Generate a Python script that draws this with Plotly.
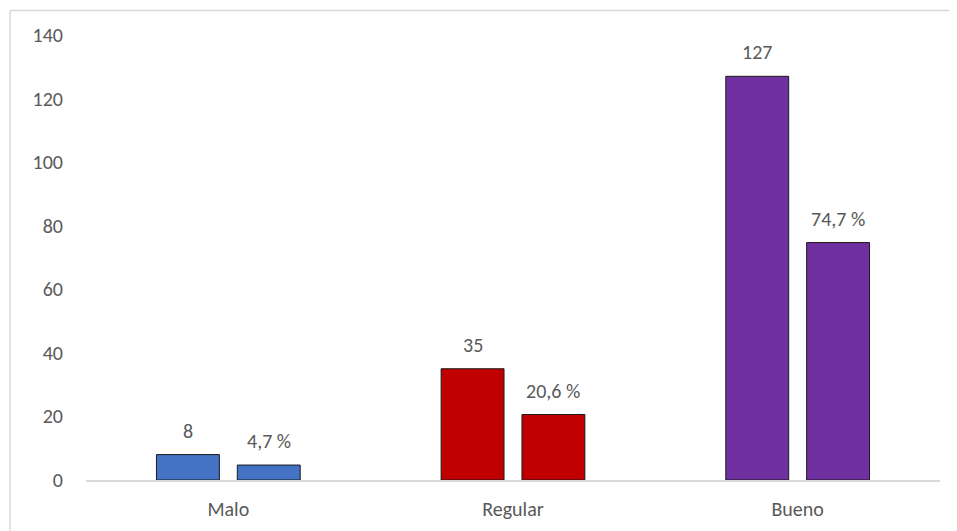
import plotly.graph_objects as go

categories = ["Malo", "Regular", "Bueno"]
counts = [8, 35, 127]
percents = [4.7, 20.6, 74.7]
colors = ["#4472C4", "#C00000", "#7030A0"]
y_ticks = [0, 20, 40, 60, 80, 100, 120, 140]

count_labels = [str(v) for v in counts]
pct_labels = [f"{v:.1f}".replace(".", ",") + " %" for v in percents]

font_family = "Carlito, Calibri, Lato, 'Open Sans', sans-serif"
FS = 20
TXT = "#595959"

BARGAP = 0.432
GROUPGAP = 0.222

fig = go.Figure()
fig.add_trace(go.Bar(
    x=categories, y=counts,
    marker=dict(color=colors, line=dict(color="#1a1a1a", width=1)),
    showlegend=False, hoverinfo="x+y",
))
fig.add_trace(go.Bar(
    x=categories, y=percents,
    marker=dict(color=colors, line=dict(color="#1a1a1a", width=1)),
    showlegend=False, hoverinfo="x+y",
))

# page body has an 8px margin; figure coordinates are screen minus 8
W, H = 949, 523
ml, mr, mt, mb = 77.5, 16.5, 27, 51
pw = W - ml - mr
ph = H - mt - mb

def px_x(p):
    return (p - ml) / pw

def px_y(p):
    return (H - mb - p) / ph

# horizontal offset of each bar within its category (pixels)
cat_w = pw / len(categories)
slot = cat_w * (1 - BARGAP) / 2
offsets = [-slot / 2, slot / 2]

annotations = []
for vals, labels, dx in [(counts, count_labels, offsets[0]), (percents, pct_labels, offsets[1])]:
    for c, v, t in zip(categories, vals, labels):
        annotations.append(dict(
            x=c, y=v, xref="x", yref="y", text=t, showarrow=False,
            xanchor="center", yanchor="bottom", xshift=dx, yshift=10,
            font=dict(size=FS, color=TXT, family=font_family),
        ))

fig.update_layout(
    width=W, height=H,
    margin=dict(l=ml, r=mr, t=mt, b=mb, autoexpand=False),
    paper_bgcolor="white", plot_bgcolor="white",
    barmode="group", bargap=BARGAP, bargroupgap=GROUPGAP,
    font=dict(family=font_family, color=TXT, size=FS),
    annotations=annotations,
    shapes=[
        dict(type="line", xref="paper", yref="paper",
             x0=px_x(1.5), x1=px_x(1000), y0=px_y(2.5), y1=px_y(2.5),
             line=dict(color="#d9d9d9", width=1.5)),
        dict(type="line", xref="paper", yref="paper",
             x0=px_x(1.5), x1=px_x(1.5), y0=px_y(2.5), y1=px_y(600),
             line=dict(color="#d9d9d9", width=1.5)),
    ],
)
fig.update_xaxes(
    showline=True, linecolor="#d9d9d9", linewidth=1.5,
    ticks="", tickfont=dict(size=FS, color=TXT),
    ticklabelstandoff=10,
)
fig.update_yaxes(
    range=[0, 140], tickvals=y_ticks, showgrid=False, zeroline=False,
    showline=False, ticks="", tickfont=dict(size=FS, color=TXT),
    ticklabelstandoff=22,
)

fig.write_html("out.html")
